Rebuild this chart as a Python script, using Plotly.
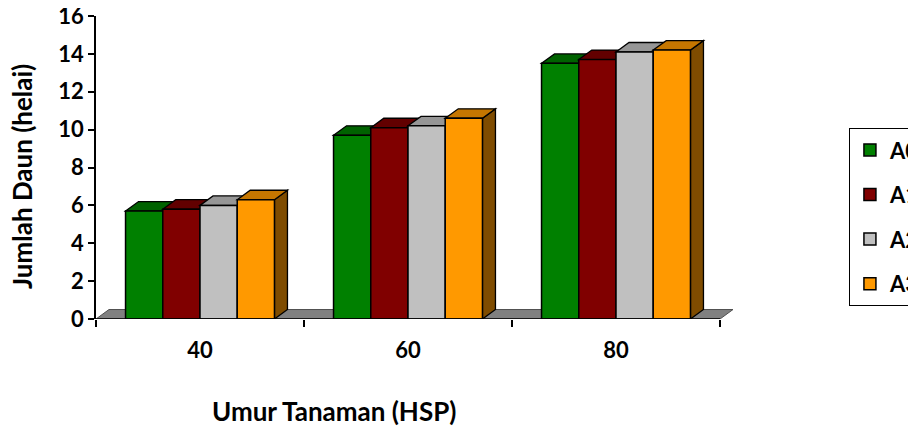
import plotly.graph_objects as go

# ---------------- data ----------------
categories = ["40", "60", "80"]
series_names = ["A0", "A1", "A2", "A3"]
A0 = [5.7, 9.7, 13.5]
A1 = [5.8, 10.1, 13.7]
A2 = [6.0, 10.2, 14.1]
A3 = [6.3, 10.6, 14.2]
y_ticks = [0, 2, 4, 6, 8, 10, 12, 14, 16]

# ---------------- style ----------------
front_colors = ["#008000", "#800000", "#C0C0C0", "#FF9900"]
top_colors = ["#006200", "#620000", "#969696", "#C57600"]
side_colors = ["#004000", "#400000", "#7A7A7A", "#7F4C00"]
FONT = "Lato, 'Open Sans', sans-serif"
TICK_SIZE = 22
TITLE_SIZE = 26

series_values = [A0, A1, A2, A3]
n_cat = len(categories)
n_ser = len(series_names)
bargap = 0.284
group_w = 1 - bargap
bw = group_w / n_ser
dx = 0.0625   # 3D depth (category units)
dy = 0.5      # 3D depth (value units)
x_idx = list(range(n_cat))

fig = go.Figure()
shapes = []

# floor
x0f, x1f = -0.5, n_cat - 0.5
shapes.append(dict(type="path", xref="x", yref="y", layer="below",
                   path=f"M {x0f},0 L {x0f+dx},{dy} L {x1f+dx},{dy} L {x1f},0 Z",
                   fillcolor="#808080", line=dict(color="#505050", width=1)))

# 3D top and side faces (drawn below the bar fronts)
for j in range(n_cat):
    for i in range(n_ser):
        h = series_values[i][j]
        xl = x_idx[j] - group_w / 2 + i * bw
        xr = xl + bw
        shapes.append(dict(type="path", xref="x", yref="y", layer="below",
                           path=f"M {xr},0 L {xr+dx},{dy} L {xr+dx},{h+dy} L {xr},{h} Z",
                           fillcolor=side_colors[i], line=dict(color="black", width=1.3)))
        shapes.append(dict(type="path", xref="x", yref="y", layer="below",
                           path=f"M {xl},{h} L {xl+dx},{h+dy} L {xr+dx},{h+dy} L {xr},{h} Z",
                           fillcolor=top_colors[i], line=dict(color="black", width=1.3)))

# x axis line
shapes.append(dict(type="line", xref="x", yref="y", x0=x0f, x1=x1f, y0=0, y1=0,
                   line=dict(color="black", width=1.5), layer="above"))

for i in range(n_ser):
    fig.add_trace(go.Bar(
        x=x_idx, y=series_values[i], name=series_names[i], legendgroup=series_names[i],
        width=bw, offset=-group_w / 2 + i * bw,
        marker=dict(color=front_colors[i], line=dict(color="black", width=1.5)),
    ))

fig.update_layout(
    width=908, height=418,
    margin=dict(l=88, r=183, t=8, b=107, autoexpand=False),
    paper_bgcolor="white", plot_bgcolor="white",
    barmode="overlay",
    shapes=shapes,
    font=dict(family=FONT, size=TICK_SIZE, color="black", weight="bold"),
    xaxis=dict(range=[-0.5, n_cat - 0.5 + dx], tickmode="array", tickvals=x_idx,
               ticktext=categories, ticks="", showline=False, showgrid=False,
               zeroline=False, ticklabelstandoff=16,
               tickfont=dict(family=FONT, size=TICK_SIZE, color="black", weight="bold"),
               minor=dict(tickmode="array", tickvals=[k - 0.5 for k in range(n_cat + 1)],
                          ticks="outside", ticklen=7, tickcolor="black", tickwidth=1.5,
                          showgrid=False)),
    yaxis=dict(range=[0, 16], tickmode="array", tickvals=y_ticks, ticks="outside",
               ticklen=6, tickwidth=1.5, tickcolor="black", showline=True,
               linecolor="black", linewidth=1.5, showgrid=False, zeroline=False,
               ticklabeloverflow="allow",
               tickfont=dict(family=FONT, size=TICK_SIZE, color="black", weight="bold")),
    legend=dict(x=1.182, y=0.630, xanchor="left", yanchor="top",
                bordercolor="black", borderwidth=1, bgcolor="white",
                tracegroupgap=13,
                font=dict(family=FONT, size=TICK_SIZE, color="black", weight="bold")),
    annotations=[
        dict(text="Jumlah Daun (helai)", xref="paper", yref="paper",
             x=-0.116, y=0.469, textangle=-90, showarrow=False,
             xanchor="center", yanchor="middle",
             font=dict(family=FONT, size=TITLE_SIZE, color="black", weight="bold")),
        dict(text="Umur Tanaman (HSP)", xref="paper", yref="paper",
             x=0.373, y=-0.302, showarrow=False,
             xanchor="center", yanchor="middle",
             font=dict(family=FONT, size=TITLE_SIZE, color="black", weight="bold")),
    ],
)

fig.write_html("out.html")
